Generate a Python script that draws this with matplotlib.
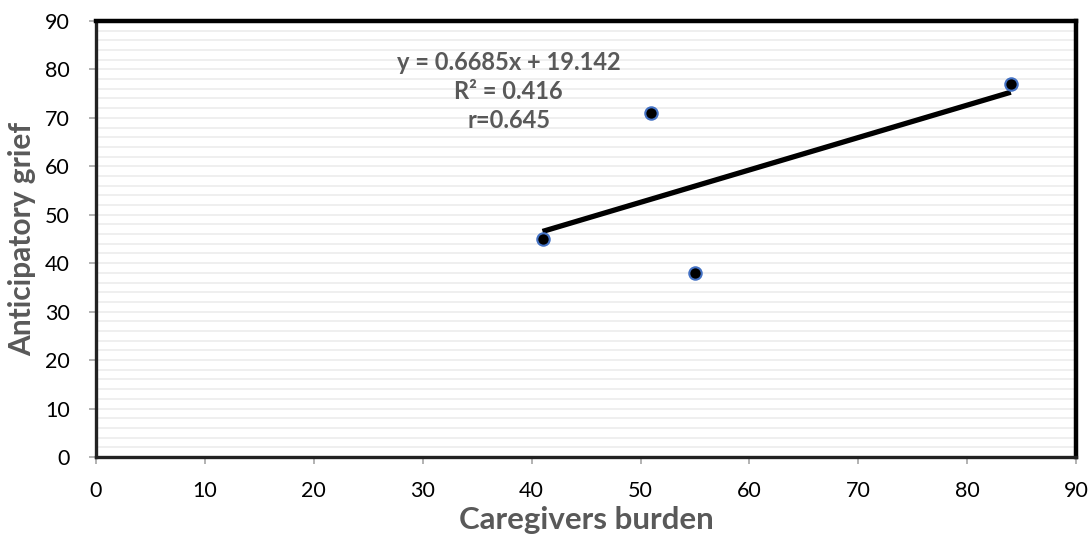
import matplotlib
matplotlib.use("Agg")
import matplotlib.pyplot as plt
import numpy as np
from matplotlib.ticker import MultipleLocator

burden = [41, 51, 55, 84]
grief = [45, 71, 38, 77]
slope = 0.6685
intercept = 19.142
eq_lines = ["y = 0.6685x + 19.142", "R² = 0.416", "r=0.645"]
xticks = list(range(0, 91, 10))
yticks = list(range(0, 91, 10))

plt.rcParams['font.family'] = ['Lato', 'DejaVu Sans']

fig = plt.figure(figsize=(10.89, 5.37), dpi=100)
ax = fig.add_axes([0.0882, 0.149, 0.9, 0.812])
ax.set_xlim(0, 90)
ax.set_ylim(0, 90)
ax.set_xticks(xticks)
ax.set_yticks(yticks)
ax.yaxis.set_minor_locator(MultipleLocator(2))
ax.grid(True, which='both', axis='y', color='#ececec', lw=1.2, zorder=0)
ax.set_axisbelow(True)

for s in ['top', 'right']:
    ax.spines[s].set_linewidth(3.2)
    ax.spines[s].set_color('black')
for s in ['left', 'bottom']:
    ax.spines[s].set_linewidth(2.4)
    ax.spines[s].set_color('#222222')

ax.tick_params(axis='x', which='major', length=5, width=1.2, color='#a6a6a6',
               labelsize=15.5, labelcolor='black', pad=12)
ax.tick_params(axis='y', which='major', length=5, width=1.2, color='#a6a6a6',
               labelsize=15.5, labelcolor='black', pad=14)
ax.tick_params(axis='both', which='minor', length=0)

xs = np.array([min(burden), max(burden)])
ax.plot(xs, slope * xs + intercept, color='black', lw=3.8, solid_capstyle='butt', zorder=3)
ax.scatter(burden, grief, s=80, c='black', edgecolors='#4472C4', linewidths=1.5, zorder=4)

ax.set_xlabel('Caregivers burden', fontsize=22.5, fontweight='bold', color='#595959', labelpad=4)
ax.set_ylabel('Anticipatory grief', fontsize=21.5, fontweight='bold', color='#595959', labelpad=6)

for i, t in enumerate(eq_lines):
    ax.text(37.9, 81.5 - i * 6.0, t, ha='center', va='center', fontsize=17,
            fontweight='bold', color='#595959', zorder=5)

fig.savefig('out.png', dpi=100)
